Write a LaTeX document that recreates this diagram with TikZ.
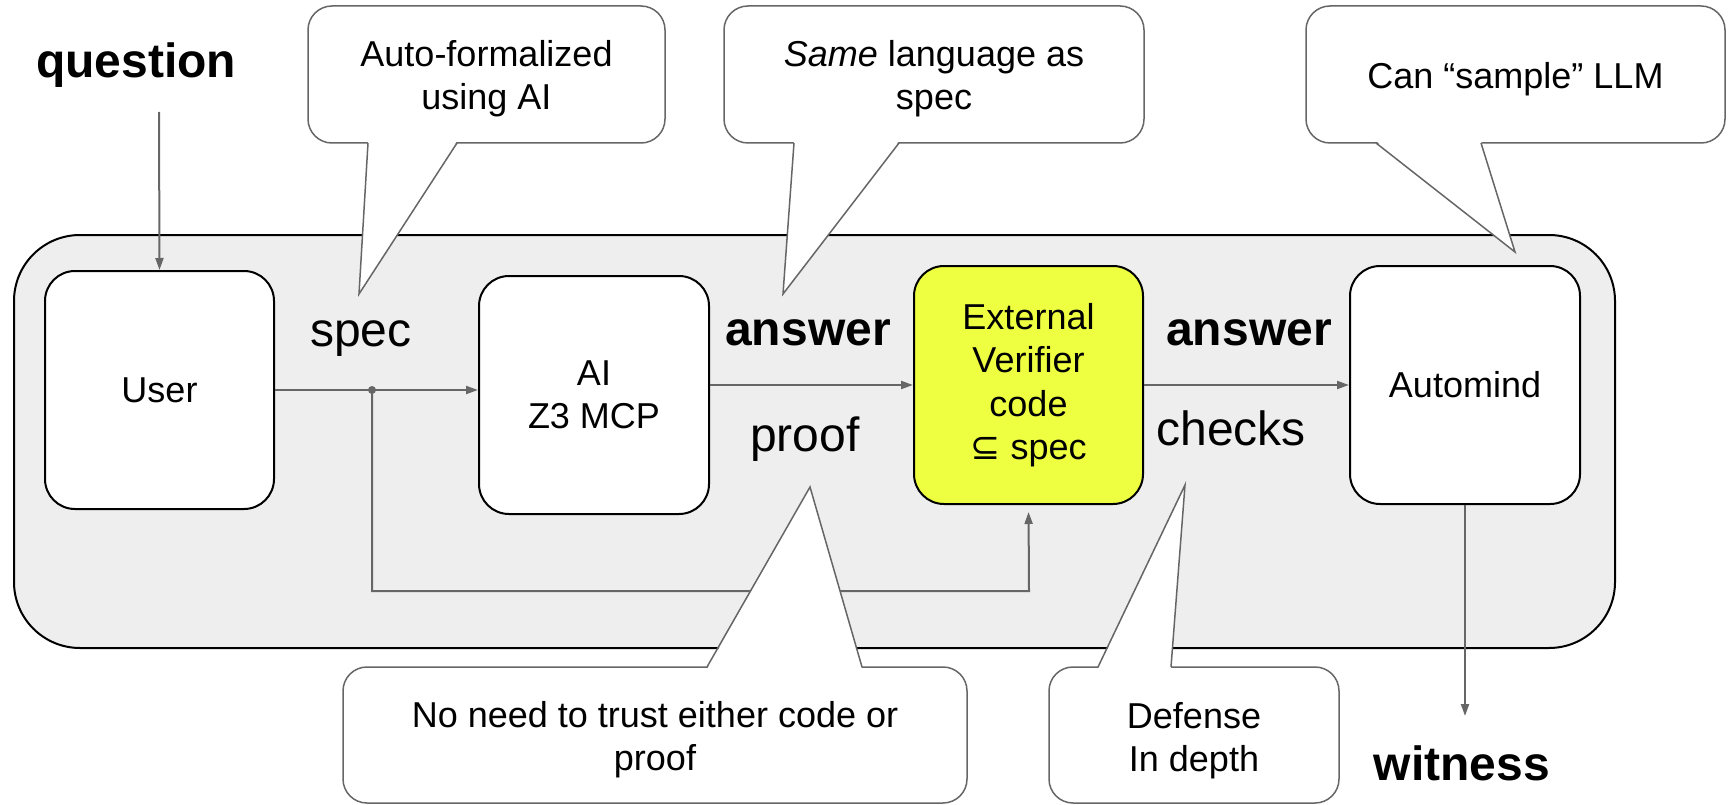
\documentclass[tikz,border=0pt]{standalone}
\usepackage{fontspec}
\setmainfont{Liberation Sans}
\newfontfamily\glyphfont{DejaVu Sans}
\usetikzlibrary{arrows.meta,calc}
\definecolor{panel}{HTML}{EEEEEE}
\definecolor{verif}{HTML}{EEFF41}
\definecolor{wire}{HTML}{666666}

\tikzset{
  stage/.style={draw=black, line width=2pt, fill=white, rounded corners=30pt,
    minimum width=229pt, minimum height=238pt, inner sep=0pt, align=center,
    font=\fontsize{36}{43.5}\selectfont},
  biglabel/.style={anchor=base, inner sep=0pt, font=\fontsize{48}{58}\selectfont},
  bigbold/.style={anchor=base, inner sep=0pt, font=\fontsize{48}{58}\selectfont\bfseries},
  flow/.style={draw=wire, line width=2pt, -{Triangle[length=12pt,width=8pt]}},
  bubble/.style={draw=wire, line width=1.5pt, fill=white, rounded corners=24pt,
    minimum height=137pt, inner sep=0pt},
  bubbletext/.style={inner sep=0pt, align=center, font=\fontsize{36}{43}\selectfont},
  tailedge/.style={draw=wire, line width=1.5pt, line join=miter},
}

\begin{document}
\begin{tikzpicture}[x=1pt, y=-1pt]
\useasboundingbox (0,0) rectangle (1729,805);

% shared panel behind the pipeline
\draw[fill=panel, draw=black, line width=2pt, rounded corners=66pt]
  (14,235) rectangle (1615,648);

% pipeline stages
\node[stage] (user) at (159.5,390) {User};
\node[stage, minimum width=230pt] (ai) at (594,395) {AI\\Z3 MCP};
\node[stage, fill=verif] (verifier) at (1028.5,385)
  {External\\Verifier\\code\\{\glyphfont ⊆} spec};
\node[stage, minimum width=230pt] (automind) at (1465,385) {Automind};

% free labels
\node[bigbold] (question) at (136,78) {question};
\node[biglabel] (speclbl) at (361,346) {spec};
\node[bigbold] (answer1) at (808,345) {answer};
\node[biglabel] (prooflbl) at (805,451) {proof};
\node[bigbold] (answer2) at (1249,345) {answer};
\node[biglabel] (checkslbl) at (1231,445) {checks};
\node[bigbold] (witness) at (1462,780) {witness};

% connectors
\coordinate (qstart) at (159,112);
\coordinate (split) at (372,390);
\coordinate (fbcorner) at (1029,591);
\coordinate (wend) at (1465,716);

\draw[flow] (qstart) -- (user.north);
\draw[flow] (user.east) -- (user.east -| ai.west);
\draw[flow] (verifier.west -| ai.east) -- (verifier.west);
\draw[flow] (verifier.east) -- (automind.west);
\draw[flow, shorten >=7pt] (split) |- (fbcorner) -- (verifier.south);
\fill[wire] (split) circle (4pt);
\draw[flow] (automind.south) -- (wend);

% speech bubbles
\node[bubble, minimum width=357pt] (c1) at (486.5,74.5) {};
\node[bubble, minimum width=420pt] (c2) at (934,74.5) {};
\node[bubble, minimum width=419pt] (c3) at (1515.5,74.5) {};
\node[bubble, minimum width=624pt, minimum height=136pt] (c4) at (655,735) {};
\node[bubble, minimum width=290pt, minimum height=136pt] (c5) at (1194,735) {};

\node[bubbletext] (c1text) at ([yshift=-4pt]c1.center) {Auto-formalized\\using AI};
\node[bubbletext] (c2text) at ([yshift=-4pt]c2.center) {\textit{Same} language as\\spec};
\node[bubbletext] (c3text) at ([yshift=-5pt]c3.center) {Can “sample” LLM};
\node[bubbletext] (c4text) at ([yshift=-5pt]c4.center) {No need to trust either code or\\proof};
\node[bubbletext] (c5text) at ([yshift=-6pt]c5.center) {Defense\\In depth};

% bubble pointers
\coordinate (t1) at (359,294);
\coordinate (t2) at (783,294);
\coordinate (t3) at (1515,252);
\coordinate (t4) at (810,487);
\coordinate (t5) at (1185,485);

\fill[white] (368,141) -- (t1) -- (457,141) -- cycle;
\draw[tailedge] (368,143) -- (t1) -- (457,143);

\fill[white] (794,141) -- (t2) -- (899,141) -- cycle;
\draw[tailedge] (794,143) -- (t2) -- (899,143);

\fill[white] (1376,141) -- (t3) -- (1481,141) -- cycle;
\draw[tailedge] (1376,143) -- (t3) -- (1481,143);

\fill[white] (707,669) -- (t4) -- (862,669) -- cycle;
\draw[tailedge] (707,667) -- (t4) -- (862,667);

\fill[white] (1098,669) -- (t5) -- (1171,669) -- cycle;
\draw[tailedge] (1098,667) -- (t5) -- (1171,667);
\end{tikzpicture}
\end{document}
